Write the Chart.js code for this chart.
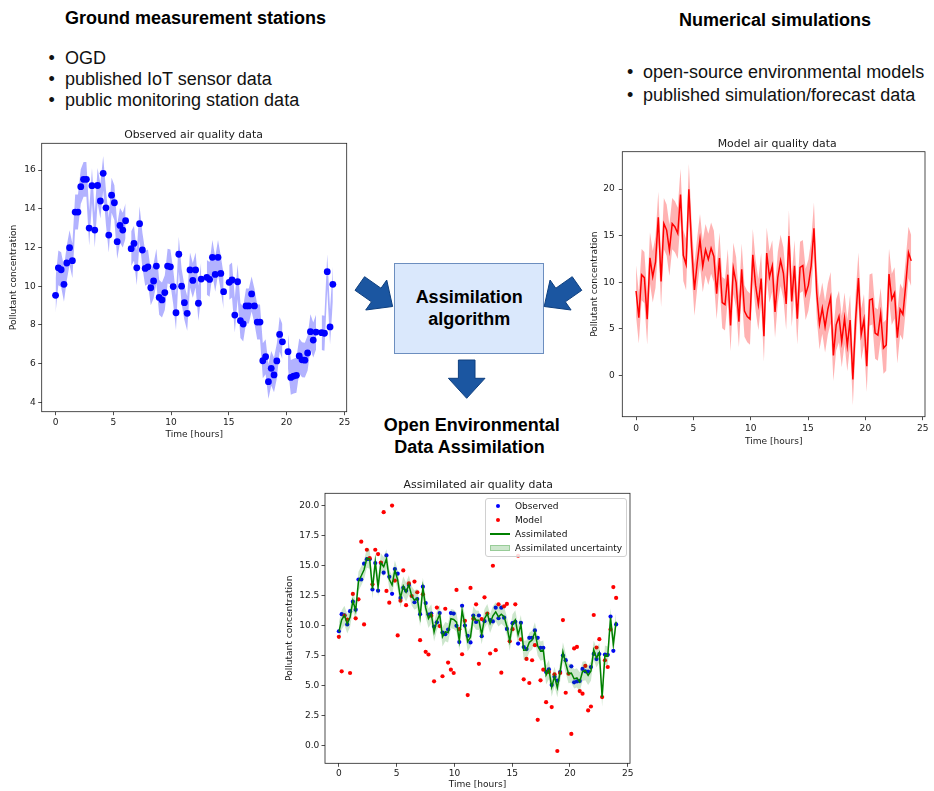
<!DOCTYPE html>
<html><head><meta charset="utf-8">
<script src="https://cdn.jsdelivr.net/npm/chart.js@4.4.1/dist/chart.umd.min.js"></script>
<style>
html,body{margin:0;padding:0;background:#fff;}
#page{position:relative;width:934px;height:791px;overflow:hidden;font-family:"Liberation Sans",Arial,sans-serif;color:#000;}
.abs{position:absolute;white-space:nowrap;}
.h{font-weight:bold;font-size:18px;line-height:21px;}
.t{font-size:18px;line-height:21px;color:#111;}
canvas{position:absolute;}
#box{position:absolute;left:394.3px;top:262.7px;width:149.7px;height:91.6px;box-sizing:border-box;border:1px solid #6c8ebf;background:#dae8fc;}
.ctr{transform:translateX(-50%);}
#legend{position:absolute;left:485px;top:498.3px;width:141.7px;height:59px;box-sizing:border-box;border:1px solid #d0d0d0;border-radius:3px;background:rgba(255,255,255,0.85);font-family:"DejaVu Sans",sans-serif;font-size:9.05px;color:#111;}
.lrow{position:absolute;left:0;width:100%;height:14px;line-height:14px;}
</style></head>
<body>
<div id="page">
  <div class="abs h" style="left:65px;top:8.25px">Ground measurement stations</div>
  <div class="abs t" style="left:48.5px;top:48.25px">•</div><div class="abs t" style="left:65px;top:48.25px">OGD</div>
  <div class="abs t" style="left:48.5px;top:68.95px">•</div><div class="abs t" style="left:65px;top:68.95px">published IoT sensor data</div>
  <div class="abs t" style="left:48.5px;top:89.65px">•</div><div class="abs t" style="left:65px;top:89.65px">public monitoring station data</div>

  <div class="abs h" style="left:679px;top:9.55px">Numerical simulations</div>
  <div class="abs t" style="left:626.9px;top:61.55px">•</div><div class="abs t" style="left:643px;top:61.55px">open-source environmental models</div>
  <div class="abs t" style="left:626.9px;top:84.95px">•</div><div class="abs t" style="left:643px;top:84.95px">published simulation/forecast data</div>

  <div id="box"></div>
  <div class="abs h ctr" style="left:469.15px;top:286.55px">Assimilation</div>
  <div class="abs h ctr" style="left:469.15px;top:308.85px">algorithm</div>

  <div class="abs h ctr" style="left:471.7px;top:414.95px">Open Environmental</div>
  <div class="abs h ctr" style="left:469.5px;top:437.25px">Data Assimilation</div>

  <svg id="arrows" class="abs" style="left:0;top:0" width="934" height="791"></svg>

  <canvas id="obsChart"></canvas>
  <canvas id="modelChart"></canvas>
  <canvas id="assimChart"></canvas>
  <div id="legend"></div>
</div>
<script>
// ---------------- data ----------------
const hours = [0,0.242,0.485,0.727,0.970,1.212,1.455,1.697,1.939,2.182,
2.424,2.667,2.909,3.152,3.394,3.636,3.879,4.121,4.364,4.606,
4.848,5.091,5.333,5.576,5.818,6.061,6.303,6.545,6.788,7.030,
7.273,7.515,7.758,8.000,8.242,8.485,8.727,8.970,9.212,9.455,
9.697,9.939,10.182,10.424,10.667,10.909,11.152,11.394,11.636,11.879,
12.121,12.364,12.606,12.848,13.091,13.333,13.576,13.818,14.061,14.303,
14.545,14.788,15.030,15.273,15.515,15.758,16.000,16.242,16.485,16.727,
16.970,17.212,17.455,17.697,17.939,18.182,18.424,18.667,18.909,19.152,
19.394,19.636,19.879,20.121,20.364,20.606,20.848,21.091,21.333,21.576,
21.818,22.061,22.303,22.545,22.788,23.030,23.273,23.515,23.758,24.000];

const observed = [9.53,10.95,10.85,10.1,11.2,11.99,11.32,13.83,13.83,15.14,
15.52,15.52,13.0,15.19,12.9,15.2,14.4,15.83,14.05,12.64,
14.7,14.31,12.3,13.14,12.9,13.38,null,11.94,12.21,10.95,
13.23,11.87,10.92,11.0,9.92,10.27,11.04,9.42,9.29,9.67,
11.04,11.0,9.98,8.63,11.65,10.0,9.15,8.6,10.84,10.3,
10.84,9.12,10.37,null,10.46,10.35,11.49,10.61,11.49,10.66,
9.72,null,10.2,10.32,8.51,10.23,8.22,8.05,8.98,8.98,
9.6,8.98,8.15,8.15,6.15,6.36,5.07,5.76,5.42,6.14,
7.51,7.13,null,6.62,5.29,5.36,5.4,6.4,6.2,6.18,
6.55,7.65,7.22,7.63,null,7.6,7.57,10.75,7.9,10.1];

const model = [9.07,6.2,10.82,10.5,6.06,12.63,10.6,12.18,16.97,10.1,
16.3,15.6,13.43,16.3,15.94,15.24,19.42,12.88,11.9,19.97,
13.74,9.18,12.07,14.58,11.7,13.5,12.46,13.66,12.77,8.79,
12.6,7.82,7.6,10.82,5.37,11.5,9.96,5.79,11.4,6.93,
6.34,6.06,12.96,9.7,7.62,10.4,4.23,13.13,10.57,11.77,
6.82,10.54,12.35,11.0,7.68,14.97,7.96,11.77,6.09,11.6,
11.8,8.7,9.7,11.77,15.8,8.85,5.54,7.23,5.23,7.12,
8.37,2.17,5.45,6.34,3.64,6.15,3.23,5.95,-0.42,6.06,
10.46,4.42,6.0,1.0,8.1,8.23,4.56,4.34,6.65,2.95,
3.28,10.88,8.18,8.87,4.06,7.12,6.56,9.68,13.2,12.3];

const assimilated = [9.48,10.48,10.85,10.14,10.69,12.05,11.25,13.67,14.14,14.64,
15.6,15.53,13.04,15.3,13.2,15.2,14.9,15.54,13.84,13.37,
14.6,13.8,12.28,13.28,12.78,13.39,12.46,12.11,12.27,10.73,
13.17,11.47,10.59,10.98,9.47,10.39,10.93,9.06,9.5,9.4,
10.57,10.51,10.28,8.74,11.25,10.04,8.66,9.05,10.81,10.45,
10.44,9.26,10.57,11.0,10.18,10.81,11.14,10.73,10.95,10.75,
9.93,8.7,10.15,10.47,9.24,10.09,7.95,7.97,8.61,8.79,
9.48,8.3,7.88,7.97,5.9,6.34,4.89,5.78,4.84,6.13,
7.81,6.86,6.0,6.06,5.57,5.65,5.32,6.19,6.25,5.86,
6.22,7.97,7.32,7.75,4.06,7.55,7.47,10.64,8.43,10.32];

const obsSigma = 0.9;
const modelSigma = 2.75;
const assimSigma = 0.8;

const xTicks = [0,5,10,15,20,25];
const obsYTicks = [4,6,8,10,12,14,16];
const modelYTicks = [0,5,10,15,20];
const assimYTicks = [0,2.5,5,7.5,10,12.5,15,17.5,20];

const chartTitles = ['Observed air quality data','Model air quality data','Assimilated air quality data'];
const xAxisTitle = 'Time [hours]';
const yAxisTitle = 'Pollutant concentration';

// ---------------- helpers ----------------
const FONT = "'DejaVu Sans', sans-serif";
const TXT = '#1a1a1a';
const pts = (vals, off) => hours.map((x, i) => ({x, y: vals[i] == null ? null : vals[i] + (off || 0)}));

function makeChart(spec) {
  const cv = document.getElementById(spec.id);
  const c = spec.canvas, a = spec.area;
  cv.width = c.w; cv.height = c.h;
  cv.style.left = c.x + 'px'; cv.style.top = c.y + 'px';
  const lh = 9.05 * 1.2;
  const xh = spec.xTitleY + lh / 2 - a.b;
  const padBottom = (c.y + c.h) - (a.b + xh);
  const yw = a.l - c.x;
  const yTitlePad = spec.yTitleX - c.x - lh / 2;
  const framePlugin = {
    id: 'frameTitle',
    afterDatasetsDraw(chart) {
      const {ctx, chartArea: ca} = chart;
      ctx.save();
      ctx.strokeStyle = '#222'; ctx.lineWidth = 0.8;
      ctx.strokeRect(ca.left, ca.top, ca.right - ca.left, ca.bottom - ca.top);
      ctx.restore();
    },
    afterDraw(chart) {
      const ctx = chart.ctx;
      ctx.save();
      ctx.font = '10.9px ' + FONT; ctx.fillStyle = TXT;
      ctx.textAlign = 'center'; ctx.textBaseline = 'alphabetic';
      ctx.fillText(spec.title.text, spec.title.x - c.x, spec.title.y - c.y);
      ctx.restore();
    }
  };
  const tickFont = {family: FONT, size: 9.05};
  const gridOpts = {display: true, drawOnChartArea: false, drawTicks: true, tickLength: 3.5, color: '#222', lineWidth: 0.8};
  return new Chart(cv, {
    type: 'line',
    data: {datasets: spec.datasets},
    options: {
      responsive: false, animation: false, devicePixelRatio: 1, events: [],
      layout: {padding: {left: 0, top: a.t - c.y, right: c.x + c.w - a.r, bottom: padBottom}},
      plugins: {legend: {display: false}, tooltip: {enabled: false}, title: {display: false}},
      scales: {
        x: {
          type: 'linear', min: spec.xRange[0], max: spec.xRange[1], bounds: 'data',
          afterBuildTicks: s => { s.ticks = xTicks.map(v => ({value: v})); },
          afterFit: s => { s.height = xh; },
          grid: gridOpts, border: {display: false},
          ticks: {padding: spec.xTickPad, color: TXT, font: tickFont, maxRotation: 0, autoSkip: false, callback: v => String(v)},
          title: {display: true, text: xAxisTitle, color: TXT, font: tickFont, padding: {top: 0, bottom: 0}}
        },
        y: {
          type: 'linear', min: spec.yRange[0], max: spec.yRange[1], bounds: 'data',
          afterBuildTicks: s => { s.ticks = spec.yTicks.map(v => ({value: v})); },
          afterFit: s => { s.width = yw; },
          grid: gridOpts, border: {display: false},
          ticks: {padding: spec.yTickPad, color: TXT, font: tickFont, autoSkip: false, callback: spec.yFmt},
          title: {display: true, text: yAxisTitle, color: TXT, font: tickFont, padding: {top: yTitlePad, bottom: 0}}
        }
      }
    },
    plugins: [framePlugin]
  });
}

const bandLine = {borderColor: 'transparent', borderWidth: 0, pointRadius: 0, spanGaps: false, tension: 0};

// Observed chart
makeChart({
  id: 'obsChart', canvas: {x: 0, y: 120, w: 360, h: 330},
  area: {l: 41.7, t: 143.3, r: 346.7, b: 411.7},
  xTitleY: 434.3, yTitleX: 14, xTickPad: 2, yTickPad: 2.5,
  title: {text: chartTitles[0], x: 193.5, y: 138.3},
  xRange: [-1.2, 25.2], yRange: [3.52, 17.38], yTicks: obsYTicks, yFmt: v => String(v),
  datasets: [
    {label: 'Observed', data: pts(observed), showLine: false, pointRadius: 3.4, pointBorderWidth: 0,
     pointBackgroundColor: '#0000ff', borderColor: '#0000ff', order: 0},
    Object.assign({data: pts(observed, obsSigma), fill: '+1', backgroundColor: 'rgba(0,0,255,0.3)', order: 1}, bandLine),
    Object.assign({data: pts(observed, -obsSigma), fill: false, order: 2}, bandLine)
  ]
});

// Model chart
makeChart({
  id: 'modelChart', canvas: {x: 585, y: 125, w: 349, h: 327},
  area: {l: 622.3, t: 151.7, r: 925, b: 416.7},
  xTitleY: 441.7, yTitleX: 595, xTickPad: 2.6, yTickPad: 4,
  title: {text: chartTitles[1], x: 777.2, y: 147.3},
  xRange: [-1.2, 25.2], yRange: [-4.4, 24.0], yTicks: modelYTicks, yFmt: v => String(v),
  datasets: [
    {label: 'Model', data: pts(model), borderColor: '#ff0000', borderWidth: 1.5, pointRadius: 0, tension: 0, fill: false, order: 0},
    Object.assign({data: pts(model, modelSigma), fill: '+1', backgroundColor: 'rgba(255,0,0,0.3)', order: 1}, bandLine),
    Object.assign({data: pts(model, -modelSigma), fill: false, order: 2}, bandLine)
  ]
});

// Assimilated chart
const assimChart = makeChart({
  id: 'assimChart', canvas: {x: 270, y: 470, w: 380, h: 321},
  area: {l: 325, t: 493.3, r: 630, b: 763.3},
  xTitleY: 785, yTitleX: 290, xTickPad: 1.8, yTickPad: 2.2,
  title: {text: chartTitles[2], x: 478.3, y: 488.3},
  xRange: [-1.2, 25.2], yRange: [-1.44, 20.99], yTicks: assimYTicks, yFmt: v => v.toFixed(1),
  datasets: [
    Object.assign({label: 'Assimilated uncertainty', legendType: 'patch', legendRank: 3,
      data: pts(assimilated, assimSigma), fill: '+1', backgroundColor: 'rgba(0,128,0,0.2)', order: 0}, bandLine),
    Object.assign({data: pts(assimilated, -assimSigma), fill: false, order: 1}, bandLine),
    {label: 'Assimilated', legendType: 'line', legendRank: 2, data: pts(assimilated), borderColor: '#008000',
     borderWidth: 1.5, pointRadius: 0, tension: 0, fill: false, order: 2},
    {label: 'Model', legendType: 'dot', legendRank: 1, data: pts(model), showLine: false, pointRadius: 2.1,
     pointBorderWidth: 0, pointBackgroundColor: '#ff0000', borderColor: '#ff0000', order: 3},
    {label: 'Observed', legendType: 'dot', legendRank: 0, data: pts(observed), showLine: false, pointRadius: 2.1,
     pointBorderWidth: 0, pointBackgroundColor: '#0000ff', borderColor: '#0000ff', order: 4}
  ]
});

// legend built from the assimilated chart's datasets
(function buildLegend() {
  const el = document.getElementById('legend');
  const items = assimChart.data.datasets.filter(d => d.legendType).sort((p, q) => p.legendRank - q.legendRank);
  items.forEach((d, k) => {
    const row = document.createElement('div');
    row.className = 'lrow';
    row.style.top = (0.4 + 14 * k - 1) + 'px';
    let mark = '';
    if (d.legendType === 'dot') {
      mark = `<span style="position:absolute;left:10.3px;top:4.9px;width:4.2px;height:4.2px;border-radius:50%;background:${d.pointBackgroundColor}"></span>`;
    } else if (d.legendType === 'line') {
      mark = `<span style="position:absolute;left:4px;top:6px;width:20px;height:0;border-top:2px solid ${d.borderColor}"></span>`;
    } else {
      mark = `<span style="position:absolute;left:4px;top:4px;width:20px;height:6px;background:${d.backgroundColor};box-sizing:border-box;border:1px solid rgba(0,128,0,0.25)"></span>`;
    }
    row.innerHTML = mark + `<span style="position:absolute;left:29px;top:0">${d.label}</span>`;
    el.appendChild(row);
  });
})();

// diagram arrows
(function drawArrows() {
  const svg = document.getElementById('arrows');
  function arrowPts(x1, y1, x2, y2, sw, hw, hl) {
    const dx = x2 - x1, dy = y2 - y1, L = Math.hypot(dx, dy), ux = dx / L, uy = dy / L, nx = -uy, ny = ux, nk = L - hl;
    const P = (s, p) => (x1 + ux * s + nx * p).toFixed(2) + ',' + (y1 + uy * s + ny * p).toFixed(2);
    return [P(0, sw), P(nk, sw), P(nk, hw), P(L, 0), P(nk, -hw), P(nk, -sw), P(0, -sw)].join(' ');
  }
  const arrows = [[359.8, 283.5, 392.6, 306.5], [577, 283.5, 544.2, 306.5], [466.7, 360, 466.7, 398.3]];
  arrows.forEach(a => {
    const poly = document.createElementNS('http://www.w3.org/2000/svg', 'polygon');
    poly.setAttribute('points', arrowPts(a[0], a[1], a[2], a[3], 8.3, 18.3, 20));
    poly.setAttribute('fill', '#1b56a1');
    poly.setAttribute('stroke', '#0e3f7f');
    poly.setAttribute('stroke-width', '1');
    svg.appendChild(poly);
  });
})();
</script>
</body></html>
